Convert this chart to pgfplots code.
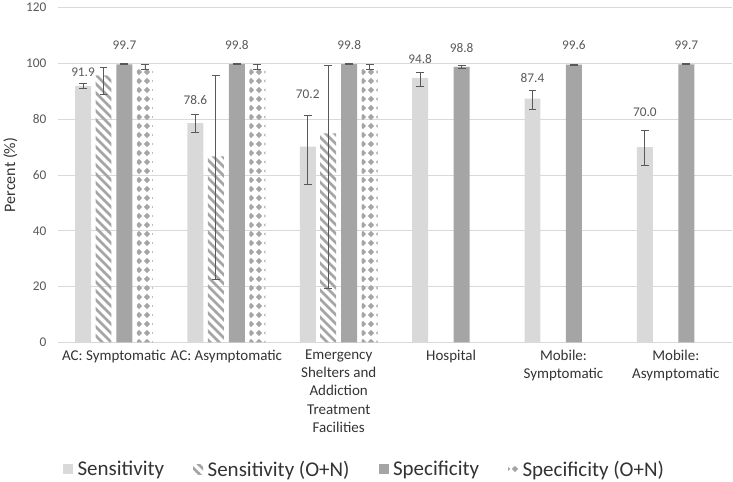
\documentclass[border=0pt]{standalone}
\usepackage{fontspec}
\setmainfont{Carlito}
\usepackage{pgfplots}
\pgfplotsset{compat=1.18}
\usetikzlibrary{patterns,patterns.meta}
\definecolor{sens}{HTML}{D9D9D9}
\definecolor{spec}{HTML}{A5A5A5}
\definecolor{gridc}{HTML}{D9D9D9}
\definecolor{txt}{HTML}{595959}
\definecolor{errc}{HTML}{595959}
\pgfdeclarepattern{
  name=mydiamonds,
  type=uncolored,
  bottom left={\pgfpoint{0pt}{0pt}},
  top right={\pgfpoint{8pt}{8.5pt}},
  tile size={\pgfpoint{8pt}{8.5pt}},
  code={
    \pgfpathmoveto{\pgfpoint{4pt}{1pt}}
    \pgfpathlineto{\pgfpoint{7.2pt}{4.25pt}}
    \pgfpathlineto{\pgfpoint{4pt}{7.5pt}}
    \pgfpathlineto{\pgfpoint{0.8pt}{4.25pt}}
    \pgfpathclose
    \pgfusepath{fill}
  }
}
\pgfdeclarepattern{
  name=myhatch,
  type=uncolored,
  bottom left={\pgfpoint{0pt}{0pt}},
  top right={\pgfpoint{9pt}{9pt}},
  tile size={\pgfpoint{9pt}{9pt}},
  code={
    \pgfsetlinewidth{2.8pt}
    \pgfpathmoveto{\pgfpoint{-1pt}{10pt}}
    \pgfpathlineto{\pgfpoint{10pt}{-1pt}}
    \pgfpathmoveto{\pgfpoint{-2pt}{2pt}}
    \pgfpathlineto{\pgfpoint{2pt}{-2pt}}
    \pgfpathmoveto{\pgfpoint{7pt}{11pt}}
    \pgfpathlineto{\pgfpoint{11pt}{7pt}}
    \pgfusepath{stroke}
  }
}
\begin{document}
\begin{tikzpicture}
\begin{axis}[
  scale only axis,
  width=675pt, height=335pt,
  ybar, bar width=16pt,
  ymin=0, ymax=120, ytick={0,20,...,120},
  xmin=-0.5, xmax=5.5,
  xtick={0,1,2,3,4,5},
  xticklabels={{AC: Symptomatic},{AC: Asymptomatic},{Emergency\\Shelters and\\Addiction\\Treatment\\Facilities},{Hospital},{Mobile:\\Symptomatic},{Mobile:\\Asymptomatic}},
  xticklabel style={align=center, font=\fontsize{15}{18.3}\selectfont, text=black!80, anchor=north, yshift=-4pt},
  yticklabel style={font=\fontsize{13.3}{15}\selectfont, text=txt, xshift=-8pt},
  /pgf/number format/assume math mode=true,
  major tick length=0pt,
  xtick style={draw=none}, ytick style={draw=none},
  grid=none,
  ymajorgrids=true, xmajorgrids=false,
  y grid style={draw=gridc, line width=0.8pt},
  axis line style={draw=none},
  ylabel={Percent (\%)},
  ylabel style={font=\fontsize{16}{18}\selectfont, text=black!80, yshift=2pt},
  legend style={at={(0.455,-0.379)}, anchor=center, draw=none, legend columns=4,
    font=\fontsize{21}{24}\selectfont, text=black!80,
    /tikz/every even column/.append style={column sep=27pt},
    /tikz/every odd column/.append style={column sep=2.5pt}},
  legend image code/.code={\draw[#1, draw=none] (0pt,-5pt) rectangle (10pt,5pt);},
  error bars/y dir=both, error bars/y explicit,
  error bars/error bar style={errc, line width=0.8pt},
  error bars/error mark options={rotate=90, mark size=4pt, errc, line width=0.8pt},
]
\coordinate (O) at (rel axis cs:0,0);
\coordinate (T) at (rel axis cs:1,1);
\draw[gridc, line width=0.8pt] (rel axis cs:0,0) -- (rel axis cs:1,0);
\addplot[fill=sens, draw=none, bar shift=-31pt] coordinates {
  (0,91.9) += (0,0.8) -= (0,0.8)
  (1,78.6) += (0,3.1) -= (0,3.3)
  (2,70.2) += (0,11.3) -= (0,13.6)
  (3,94.8) += (0,2.0) -= (0,3.2)
  (4,87.4) += (0,2.8) -= (0,3.8)
  (5,70.0) += (0,5.9) -= (0,6.5)
};
\addlegendentry{Sensitivity}
\addplot[draw=none, pattern=myhatch, pattern color=spec, bar shift=-10.5pt] coordinates {
  (0,95.7) += (0,3.0) -= (0,6.9)
  (1,66.7) += (0,28.9) -= (0,44.1)
  (2,74.9) += (0,24.3) -= (0,55.4)
};
\addlegendentry{Sensitivity (O+N)}
\addplot[fill=spec, draw=none, bar shift=10.5pt] coordinates {
  (0,99.7) += (0,0.2) -= (0,0.2)
  (1,99.8) += (0,0.15) -= (0,0.15)
  (2,99.8) += (0,0.15) -= (0,0.15)
  (3,98.8) += (0,0.5) -= (0,0.5)
  (4,99.6) += (0,0.2) -= (0,0.2)
  (5,99.7) += (0,0.2) -= (0,0.2)
};
\addlegendentry{Specificity}
\addplot[draw=none, pattern=mydiamonds, pattern color=spec, bar shift=31pt] coordinates {
  (0,98.8) += (0,0.8) -= (0,0.9)
  (1,98.8) += (0,0.8) -= (0,0.9)
  (2,98.8) += (0,0.8) -= (0,0.9)
};
\addlegendentry{Specificity (O+N)}
% value labels
\addplot[forget plot, draw=none, fill=none, bar shift=-31pt, error bars/y dir=none,
  nodes near coords, point meta=explicit symbolic,
  nodes near coords style={anchor=center, font=\fontsize{13.3}{15}\selectfont, text=txt}]
  coordinates {(0,96.7)[91.9] (1,86.8)[78.6] (2,88.9)[70.2] (3,101.5)[94.8] (4,94.9)[87.4] (5,82.4)[70.0]};
\addplot[forget plot, draw=none, fill=none, bar shift=10.5pt, error bars/y dir=none,
  nodes near coords, point meta=explicit symbolic,
  nodes near coords style={anchor=center, font=\fontsize{13.3}{15}\selectfont, text=txt}]
  coordinates {(0,106.7)[99.7] (1,106.7)[99.8] (2,106.7)[99.8] (3,105.5)[98.8] (4,106.7)[99.6] (5,106.7)[99.7]};
\end{axis}
\path ([xshift=-57pt,yshift=-139pt]O) rectangle ([xshift=1pt,yshift=5pt]T);
\end{tikzpicture}
\end{document}
